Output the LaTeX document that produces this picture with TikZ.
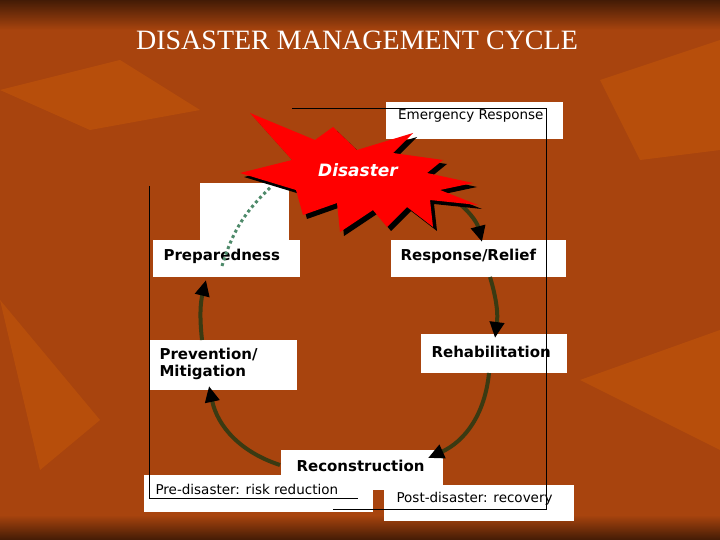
\documentclass[tikz,border=0pt]{standalone}
\usepackage{fontspec}
\setmainfont{Liberation Serif}
\newfontfamily\vfont{DejaVu Sans}
\usetikzlibrary{arrows.meta}
\definecolor{bgc}{HTML}{A8440E}
\definecolor{cyc}{HTML}{3A3A12}
\definecolor{dotg}{HTML}{4E8A6A}
\begin{document}
\begin{tikzpicture}[x=1pt,y=-1pt,
  wbox/.style={fill=white,draw=none},
  lab/.style={font=\vfont\bfseries\fontsize{15}{17}\selectfont,anchor=west,align=left},
  slab/.style={font=\vfont\fontsize{13.5}{15}\selectfont,anchor=west},
  cyc/.style={draw=cyc,line width=4pt,-{Triangle[length=16pt,width=14pt,color=black,fill=black]}},
  brk/.style={draw=black,line width=0.8pt}]
\useasboundingbox (0,0) rectangle (720,540);
\fill[bgc] (0,0) rectangle (720,540);
\shade[top color=black!60!bgc,bottom color=bgc] (0,0) rectangle (720,30);
\shade[top color=bgc,bottom color=black!60!bgc] (0,515) rectangle (720,540);
\fill[orange!70!bgc,opacity=0.25] (0,90) -- (120,60) -- (200,110) -- (90,130) -- cycle;
\fill[orange!70!bgc,opacity=0.25] (600,80) -- (720,40) -- (720,150) -- (640,160) -- cycle;
\fill[orange!70!bgc,opacity=0.25] (580,380) -- (720,330) -- (720,450) -- cycle;
\fill[orange!70!bgc,opacity=0.25] (0,300) -- (100,420) -- (40,470) -- cycle;
\node[text=white,font=\fontsize{28}{30}\selectfont] (title) at (357,40) {DISASTER MANAGEMENT CYCLE};
% boxes
\node[wbox,minimum width=177,minimum height=37,anchor=north west] (er) at (386,102) {};
\node[slab,anchor=north west,inner sep=0] at (398,109) {Emergency Response};
\fill[white] (200,183) rectangle (289,240);
\node[wbox,minimum width=147,minimum height=37,anchor=north west] (prep) at (153,240) {};
\node[lab] at (160,256) {Preparedness};
\node[wbox,minimum width=175,minimum height=37,anchor=north west] (resp) at (391,240) {};
\node[lab] at (397,256) {Response/Relief};
\node[wbox,minimum width=147,minimum height=50,anchor=north west] (prev) at (150,340) {};
\node[lab] at (156,364) {Prevention/\\Mitigation};
\node[wbox,minimum width=146,minimum height=39,anchor=north west] (reh) at (421,334) {};
\node[lab] at (428,352) {Rehabilitation};
\node[wbox,minimum width=162,minimum height=40,anchor=north west] (rec) at (281,450) {};
\node[lab] at (293,466) {Reconstruction};
\node[wbox,minimum width=229,minimum height=37,anchor=north west] (pre) at (144,475) {};
\node[slab] at (152,489) {Pre-disaster: risk reduction};
\node[wbox,minimum width=190,minimum height=36,anchor=north west] (post) at (384,485) {};
\node[slab] at (393,499) {Post-disaster: recovery};
% brackets
\draw[brk] (149,186) -- (149,498) -- (358,498);
\draw[brk] (292,108) -- (546,108) -- (546,509) -- (333,509);
% cycle arrows
\coordinate (d1) at (452,198);
\draw[cyc] (d1) to[bend left=20] (482,242);
\draw[cyc] (490,277) to[bend left=12] (495,338);
\draw[cyc] (489,373) to[bend left=30] (428,458);
\draw[cyc] (280,465) to[bend left=30] (209,386);
\draw[cyc] (202,340) to[bend left=10] (206,280);
% starburst
\def\star{(240,173) -- (292,160) -- (250,113) -- (315,140) -- (333,127) -- (357,150) -- (413,133) -- (393,153) -- (443,160) -- (427,173) -- (473,183) -- (440,190) -- (478,205) -- (430,200) -- (433,227) -- (407,207) -- (387,227) -- (373,210) -- (340,232) -- (337,203) -- (303,215) -- (296,190) -- cycle}
\fill[black] [shift={(4,4)}] \star;
\fill[red] \star;
\node[text=white,font=\vfont\bfseries\itshape\fontsize{17}{19}\selectfont] (dis) at (358,170) {Disaster};
\draw[dotg,line width=3pt,dash pattern=on 3pt off 3pt] (222,266) to[bend left=15] (272,186);
\end{tikzpicture}
\end{document}
